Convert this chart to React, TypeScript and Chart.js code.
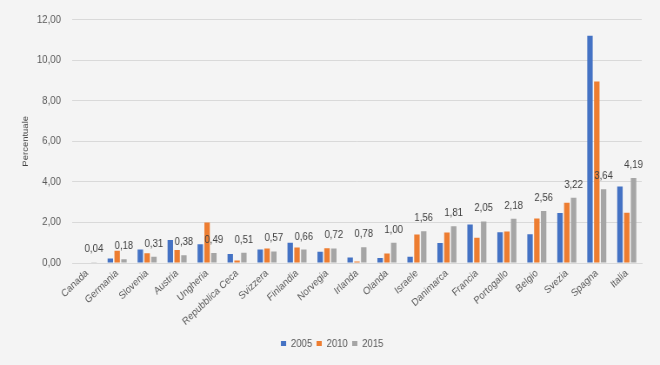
import React, { useEffect, useRef } from "react";
import { Chart, registerables } from "chart.js";

Chart.register(...registerables);

const categories = [
  "Canada", "Germania", "Slovenia", "Austria", "Ungheria", "Repubblica Ceca",
  "Svizzera", "Finlandia", "Norvegia", "Irlanda", "Olanda", "Israele",
  "Danimarca", "Francia", "Portogallo", "Belgio", "Svezia", "Spagna", "Italia",
];
const values2005 = [0, 0.22, 0.67, 1.13, 0.93, 0.44, 0.67, 1.0, 0.55, 0.27, 0.25, 0.31, 0.99, 1.9, 1.52, 1.42, 2.47, 11.2, 3.77];
const values2010 = [0, 0.6, 0.48, 0.64, 2.0, 0.12, 0.72, 0.77, 0.73, 0.07, 0.47, 1.41, 1.5, 1.25, 1.55, 2.2, 2.97, 8.95, 2.48];
const values2015 = [0.04, 0.18, 0.31, 0.38, 0.49, 0.51, 0.57, 0.66, 0.72, 0.78, 1.0, 1.56, 1.81, 2.05, 2.18, 2.56, 3.22, 3.64, 4.19];
const seriesLabels = ["2005", "2010", "2015"];
const yTicks = [0, 2, 4, 6, 8, 10, 12];
const yTitle = "Percentuale";

// The reference uses a narrow (Calibri-like) face; emulate it by drawing on a
// wider canvas and compressing it horizontally with a CSS transform.
const VIEW_W = 660;
const VIEW_H = 365;
const CANVAS_W = 759;
const SX = VIEW_W / CANVAS_W;

const FONT = "'Liberation Sans', Arial, sans-serif";
const fmt = (v: number) => v.toFixed(2).replace(".", ",");

const extraText = {
  id: "extraText",
  afterDatasetsDraw(chart: any) {
    const ctx = chart.ctx;
    const meta = chart.getDatasetMeta(2);
    ctx.save();
    ctx.font = `11px ${FONT}`;
    ctx.fillStyle = "#404040";
    ctx.textAlign = "center";
    ctx.textBaseline = "middle";
    meta.data.forEach((el: any, i: number) => {
      ctx.fillText(fmt(values2015[i]), el.x, el.y - 13);
    });
    ctx.restore();
  },
  afterDraw(chart: any) {
    const ctx = chart.ctx;
    const { top, bottom } = chart.chartArea;
    ctx.save();
    ctx.translate(29, (top + bottom) / 2);
    ctx.rotate(-Math.PI / 2);
    ctx.font = `9.5px ${FONT}`;
    ctx.fillStyle = "#404040";
    ctx.textAlign = "center";
    ctx.textBaseline = "middle";
    ctx.fillText(yTitle, 0, 0);
    ctx.restore();
  },
};

export default function App() {
  const ref = useRef<HTMLCanvasElement>(null);
  useEffect(() => {
    const chart = new Chart(ref.current!, {
      type: "bar",
      data: {
        labels: categories,
        datasets: [
          { label: seriesLabels[0], data: values2005, backgroundColor: "#4472C4" },
          { label: seriesLabels[1], data: values2010, backgroundColor: "#ED7D31" },
          { label: seriesLabels[2], data: values2015, backgroundColor: "#A5A5A5" },
        ],
      },
      options: {
        animation: false,
        responsive: false,
        maintainAspectRatio: false,
        devicePixelRatio: 1,
        layout: { padding: { left: 26, right: 21, top: 10, bottom: 6 } },
        datasets: { bar: { categoryPercentage: 0.68, barPercentage: 0.8 } },
        plugins: {
          tooltip: { enabled: false },
          legend: {
            position: "bottom",
            labels: {
              boxWidth: 6,
              boxHeight: 5,
              padding: 5,
              color: "#595959",
              font: { family: FONT, size: 11 },
            },
          },
        },
        scales: {
          x: {
            grid: { display: false, drawTicks: false },
            border: { color: "#d9d9d9", width: 1 },
            ticks: {
              color: "#595959",
              font: { family: FONT, size: 10.5 },
              maxRotation: 40,
              minRotation: 40,
              padding: 4,
              autoSkip: false,
            },
            afterFit: (s: any) => { s.height = 70; },
          },
          y: {
            min: 0,
            max: 12,
            afterBuildTicks: (s: any) => { s.ticks = yTicks.map((v) => ({ value: v })); },
            grid: { color: "#d9d9d9", drawTicks: false, lineWidth: 1 },
            border: { display: false },
            ticks: {
              color: "#595959",
              font: { family: FONT, size: 11 },
              padding: 13,
              callback: (v: any) => fmt(Number(v)),
            },
            afterFit: (s: any) => { s.width = 57; },
          },
        },
      },
      plugins: [extraText],
    });
    return () => chart.destroy();
  }, []);
  return (
    <div style={{ position: "fixed", left: 0, top: 0, width: VIEW_W, height: VIEW_H, background: "#f4f4f4", overflow: "hidden" }}>
      <div style={{ width: CANVAS_W, height: VIEW_H, transform: `scaleX(${SX})`, transformOrigin: "0 0" }}>
        <canvas ref={ref} width={CANVAS_W} height={VIEW_H} />
      </div>
    </div>
  );
}
